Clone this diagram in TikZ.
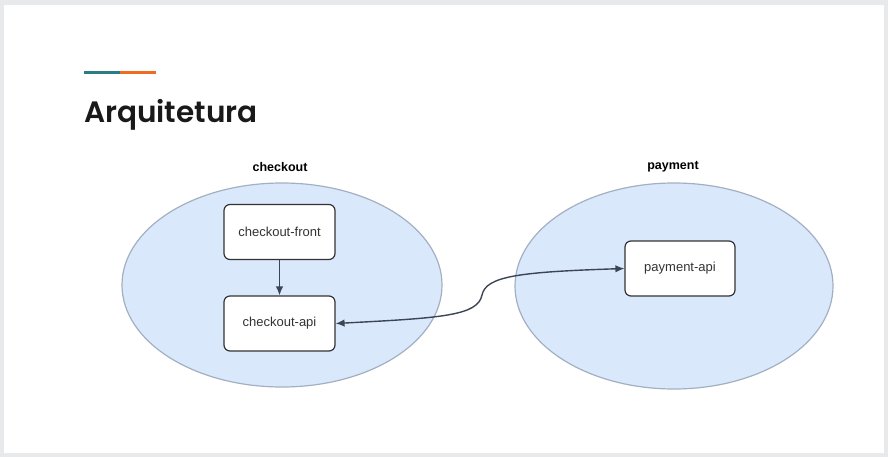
\documentclass[tikz,border=0pt]{standalone}
\usepackage{fontspec}
\setmainfont{Liberation Sans}
\newfontfamily\titlefont{Poppins SemiBold}
\usepackage{xcolor}
\usetikzlibrary{positioning}
\usetikzlibrary{shapes.geometric}
\usetikzlibrary{arrows.meta}
\definecolor{slideframe}{HTML}{E8E9EB}
\definecolor{groupfill}{HTML}{DAE8FC}
\definecolor{groupline}{HTML}{A3B0C2}
\definecolor{boxline}{HTML}{333333}
\definecolor{linkline}{HTML}{3B4556}
\definecolor{textgray}{HTML}{333333}
\definecolor{barteal}{HTML}{2B7C84}
\definecolor{barorange}{HTML}{F06A22}
\tikzset{
  group/.style={ellipse, draw=groupline, fill=groupfill, line width=1.2pt, inner sep=0pt},
  grouplabel/.style={font=\fontsize{12.5}{14}\selectfont\bfseries, text=black},
  service/.style={draw=boxline, fill=white, rounded corners=6pt, line width=1.2pt,
    minimum width=111pt, minimum height=55pt, inner sep=0pt,
    font=\fontsize{13}{15}\selectfont, text=textgray},
  link/.style={draw=linkline, line width=1.4pt},
  tip/.tip={Latex[length=9pt, width=7.5pt]}
}

\begin{document}
\begin{tikzpicture}[x=1pt, y=-1pt]
	\useasboundingbox (0,0) rectangle (888,457);
	\fill[slideframe] (0,0) rectangle (888,457);
	\fill[white] (4,5) rectangle (884,453);
	% title
	\draw[barteal, line width=3pt] (84,73) -- (120,73);
	\draw[barorange, line width=3pt] (120,73) -- (156,73);
	\node[anchor=base west, inner sep=0pt, text=black!90] (title) at (84,123)
		{\titlefont\fontsize{29.5}{36}\selectfont Arquitetura};
	% groups
	\node[group, minimum width=320pt, minimum height=204pt] (checkout) at (282,285) {};
	\node[group, minimum width=318pt, minimum height=206pt] (payment) at (674,286) {};
	\node[grouplabel] (checkoutlabel) at (280,167) {checkout};
	\node[grouplabel] (paymentlabel) at (673,167) {payment};
	% services
	\node[service] (checkoutfront) at (279.5,232) {checkout-front};
	\node[service] (checkoutapi) at (279.5,323.5) {checkout-api};
	\node[service, minimum width=110pt] (paymentapi) at (680,268.5) {payment-api};
	% links
	\coordinate (bend) at (482,295);
	\draw[link, -tip] (checkoutfront) -- (checkoutapi);
	\draw[link, tip-tip] (checkoutapi.east) .. controls (440,318) and (478,316) .. (bend)
		.. controls (486,276) and (520,272) .. (paymentapi.west);
\end{tikzpicture}
\end{document}
